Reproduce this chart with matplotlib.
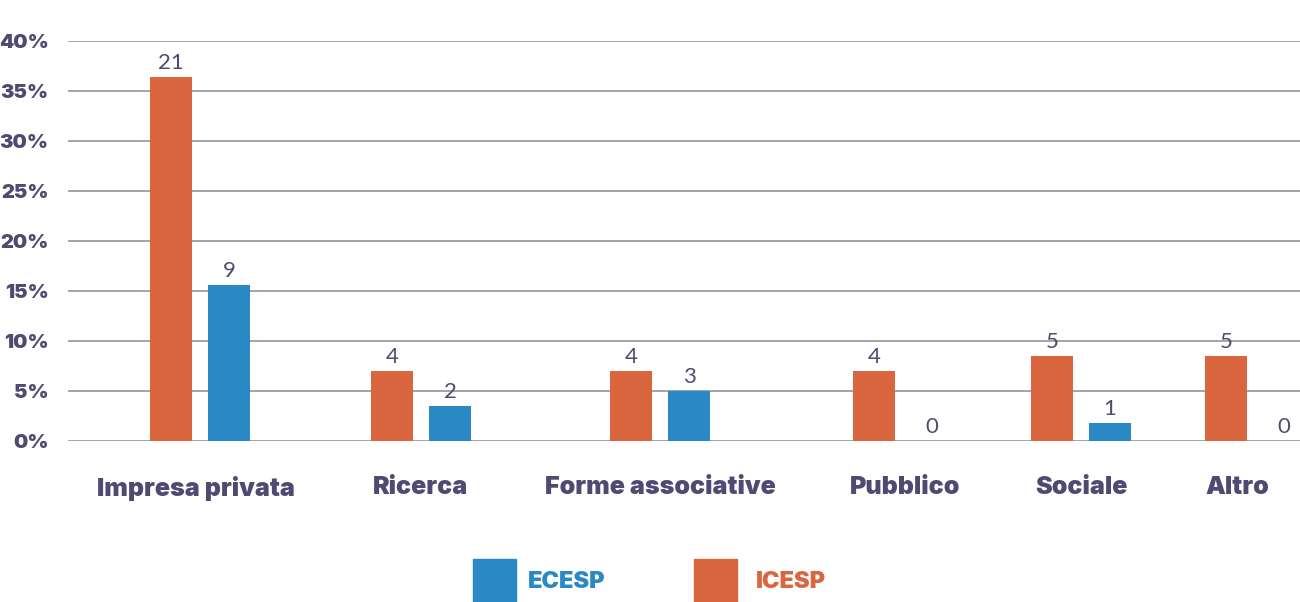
import matplotlib.pyplot as plt
from matplotlib.patches import Rectangle

categories = ["Impresa privata", "Ricerca", "Forme associative", "Pubblico", "Sociale", "Altro"]
icesp_count = [21, 4, 4, 4, 5, 5]
ecesp_count = [9, 2, 3, 0, 1, 0]
icesp_pct = [36.4, 7.0, 7.0, 7.0, 8.5, 8.5]
ecesp_pct = [15.6, 3.5, 5.0, 0.0, 1.8, 0.0]
yticks = [0, 5, 10, 15, 20, 25, 30, 35, 40]

# layout (pixel-like units along x)
group_x = [200, 421, 660, 903, 1081, 1255]
label_x = [196, 420, 660, 905, 1081, 1237]
bar_w = 42
offset = 29

orange = "#D9663F"
blue = "#2A88C4"
text_col = "#4E4A72"
grid_col = "#A3A3A8"

plt.rcParams['font.family'] = ['Inter', 'DejaVu Sans']
heavy = dict(family=['Inter', 'DejaVu Sans'], fontweight=900)

fig = plt.figure(figsize=(13, 6.02), dpi=100)
ax = fig.add_axes([68 / 1300, 161 / 602, 1 - 68 / 1300, 400 / 602])
ax.set_xlim(68, 1300)
ax.set_ylim(0, 40)

for y in yticks:
    ax.axhline(y, color=grid_col, lw=1.4, zorder=0)

xi = [x - offset for x in group_x]
xe = [x + offset for x in group_x]
ax.bar(xi, icesp_pct, width=bar_w, color=orange, zorder=2)
ax.bar(xe, ecesp_pct, width=bar_w, color=blue, zorder=2)

for x, h, n in zip(xi, icesp_pct, icesp_count):
    ax.annotate(str(n), (x, h), xytext=(0, 3), textcoords="offset points",
                ha="center", va="bottom", fontsize=16, color=text_col,
                family=['Lato', 'DejaVu Sans'])
for x, h, n in zip(xe, ecesp_pct, ecesp_count):
    ax.annotate(str(n), (x, h), xytext=(0, 3), textcoords="offset points",
                ha="center", va="bottom", fontsize=16, color=text_col,
                family=['Lato', 'DejaVu Sans'])

ax.set_yticks(yticks)
ax.set_yticklabels([f"{v}%" for v in yticks], fontsize=14.5, color=text_col, **heavy)
ax.tick_params(axis="y", length=0, pad=14)
ax.set_xticks(label_x)
ax.set_xticklabels(categories, fontsize=18, color=text_col, **heavy)
ax.tick_params(axis="x", length=0, pad=25)
for s in ax.spines.values():
    s.set_visible(False)

# legend, drawn by hand to match the cropped look
fig.patches.append(Rectangle((473 / 1300, 0), 43 / 1300, 43 / 602, transform=fig.transFigure,
                             color=blue, zorder=3))
fig.patches.append(Rectangle((694 / 1300, 0), 43 / 1300, 43 / 602, transform=fig.transFigure,
                             color=orange, zorder=3))
fig.text(528 / 1300, 20 / 602, "ECESP", fontsize=17, color=blue, va="center", **heavy)
fig.text(756 / 1300, 20 / 602, "ICESP", fontsize=17, color=orange, va="center", **heavy)

fig.savefig("out.png", dpi=100)
